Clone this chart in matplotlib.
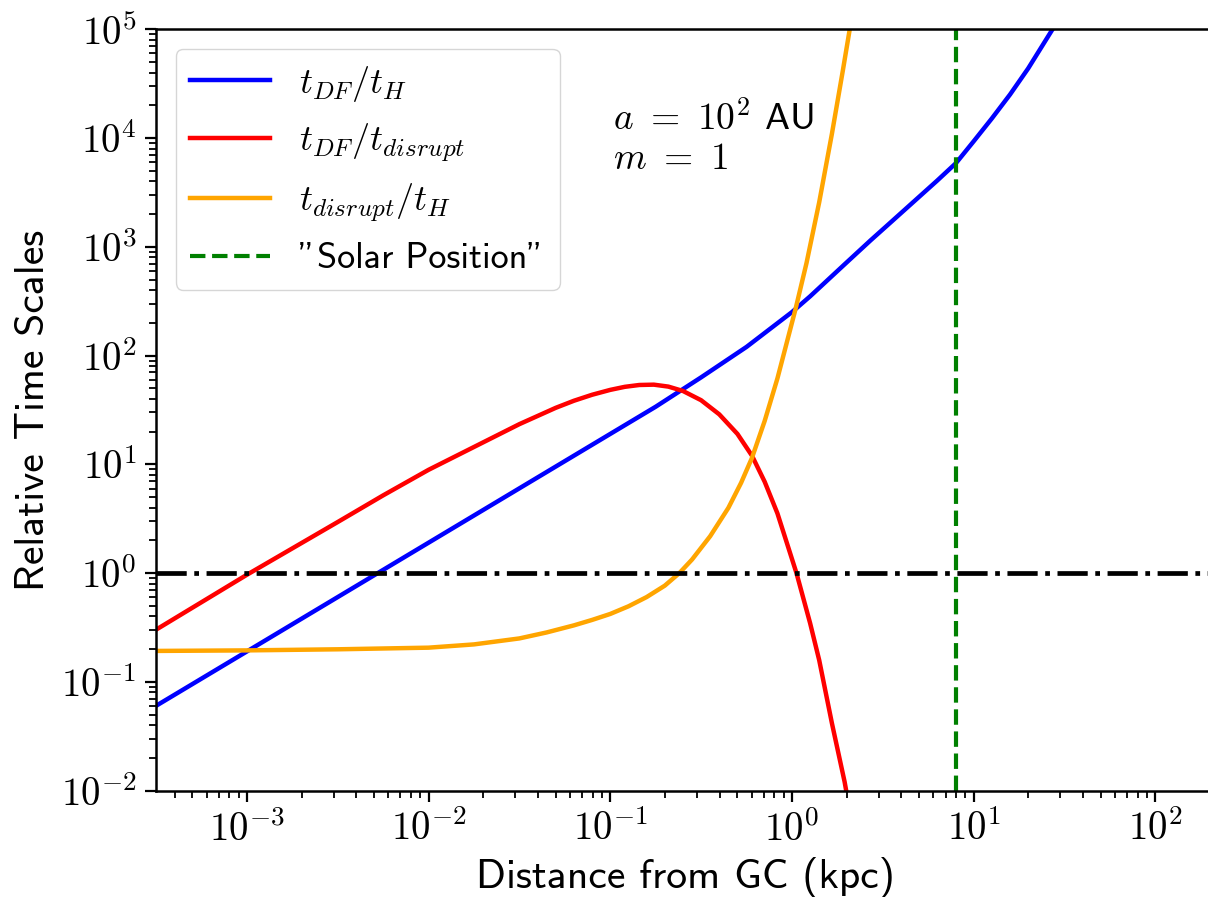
import numpy as np
import matplotlib
matplotlib.use("Agg")
from matplotlib import pyplot as plt
from matplotlib.ticker import FuncFormatter, LogLocator

plt.rcParams['mathtext.fontset'] = 'cm'
plt.rcParams['font.family'] = ['cmss10', 'DejaVu Sans']
plt.rcParams['axes.unicode_minus'] = False

# values: log10 of distance (kpc) and log10 of ratio
lr_blue = [-3.5, -3.0, -2.5, -2.0, -1.5, -1.0, -0.75, -0.5, -0.25, 0.0, 0.1,
           0.2, 0.3, 0.433, 0.55, 0.7, 0.8, 0.903, 1.0, 1.1, 1.2, 1.3, 1.434]
lt_df_th = [-1.22, -0.72, -0.22, 0.28, 0.78, 1.28, 1.53, 1.80, 2.08, 2.40,
            2.545, 2.70, 2.855, 3.06, 3.235, 3.46, 3.61, 3.77, 3.97, 4.18,
            4.40, 4.64, 5.0]

lr_red = [-3.5, -3.0, -2.5, -2.25, -2.0, -1.75, -1.5, -1.3, -1.2, -1.1, -1.0,
          -0.92, -0.84, -0.76, -0.68, -0.6, -0.5, -0.4, -0.3, -0.22, -0.15,
          -0.08, 0.025, 0.1, 0.15, 0.22, 0.29, 0.32]
lt_df_tdis = [-0.52, -0.015, 0.47, 0.715, 0.95, 1.16, 1.37, 1.52, 1.585, 1.64,
              1.685, 1.713, 1.73, 1.733, 1.715, 1.675, 1.59, 1.46, 1.28, 1.08,
              0.84, 0.55, 0.0, -0.46, -0.80, -1.38, -1.92, -2.2]

lr_orange = [-3.5, -3.0, -2.5, -2.0, -1.75, -1.5, -1.35, -1.2, -1.1, -1.0,
             -0.9, -0.8, -0.7, -0.62, -0.55, -0.45, -0.35, -0.28, -0.22,
             -0.15, -0.08, 0.02, 0.08, 0.15, 0.22, 0.28, 0.32]
lt_dis_th = [-0.715, -0.71, -0.70, -0.685, -0.655, -0.60, -0.545, -0.48,
             -0.43, -0.375, -0.305, -0.22, -0.115, 0.0, 0.125, 0.34, 0.60,
             0.83, 1.06, 1.40, 1.79, 2.43, 2.85, 3.41, 4.04, 4.62, 5.02]

r_sun = 8.0
x_ticks = [1e-3, 1e-2, 1e-1, 1e0, 1e1, 1e2]
y_ticks = [1e-2, 1e-1, 1e0, 1e1, 1e2, 1e3, 1e4, 1e5]

fig = plt.figure(figsize=(12.08, 8.97), dpi=100)
# right spine sits just past the right edge of the picture, as in the original
ax = fig.add_axes([156/1208, 1-790.7/897, 1058/1208, 761.4/897])

ax.plot(10**np.array(lr_blue), 10**np.array(lt_df_th), color='b', lw=3.2,
        label=r'$t_{DF}/t_H$')
ax.plot(10**np.array(lr_red), 10**np.array(lt_df_tdis), color='r', lw=3.2,
        label=r'$t_{DF}/t_{disrupt}$')
ax.plot(10**np.array(lr_orange), 10**np.array(lt_dis_th), color='orange', lw=3.2,
        label=r'$t_{disrupt}/t_H$')
ax.axvline(r_sun, color='g', ls='--', lw=3.0, label='"Solar Position"')
ax.axhline(1.0, color='k', ls='-.', lw=3.4)

ax.set_xscale('log')
ax.set_yscale('log')
ax.set_xlim(10**-3.5, 10**(-3.5 + 1058/181.7))
ax.set_ylim(1e-2, 1e5)

fmt = FuncFormatter(lambda v, p: r'$10^{%d}$' % round(np.log10(v)))
ax.set_xticks(x_ticks)
ax.set_yticks(y_ticks)
ax.xaxis.set_minor_locator(LogLocator(base=10, subs=np.arange(2, 10), numticks=50))
ax.yaxis.set_minor_locator(LogLocator(base=10, subs=np.arange(2, 10), numticks=50))
ax.xaxis.set_major_formatter(fmt)
ax.yaxis.set_major_formatter(fmt)
ax.tick_params(which='major', direction='out', length=8, width=1.6, labelsize=28, pad=6)
ax.tick_params(which='minor', direction='out', length=5, width=1.3)
for s in ax.spines.values():
    s.set_linewidth(1.8)

ax.set_xlabel('Distance from GC (kpc)', fontsize=30, labelpad=6)
ax.set_ylabel('Relative Time Scales', fontsize=30, labelpad=6)

ax.text(0.432, 0.883, r'$a\ =\ 10^2$ AU', transform=ax.transAxes, fontsize=27, va='center')
ax.text(0.432, 0.829, r'$m\ =\ 1$', transform=ax.transAxes, fontsize=27, va='center')

ax.legend(loc='upper left', fontsize=26, borderaxespad=0.55, handlelength=2.2,
          labelspacing=0.5)

fig.savefig('out.png', dpi=100)
